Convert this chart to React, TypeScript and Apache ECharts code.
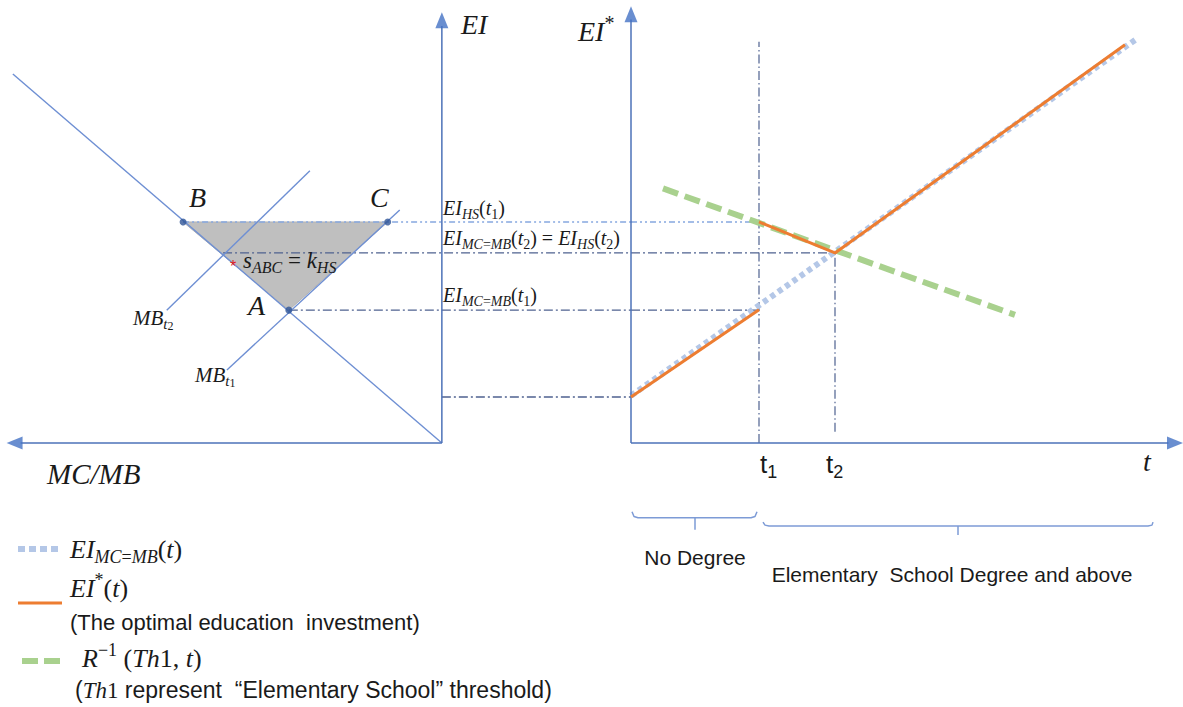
import React, { useEffect, useRef } from "react";
import * as echarts from "echarts";

// ---------- Left panel: MC/MB (to the left) vs EI ----------
const mcLine = [[9.98, 8.58], [0, 0]];
const mbT1Line = [[5.0, 1.7], [0.98, 5.42]];
const mbT2Line = [[6.4, 3.09], [3.07, 6.33]];
const triangleABC = [[6.02, 5.14], [1.26, 5.14], [3.56, 3.09]];
const pointNames = ["B", "C", "A"];

// ---------- Connectors between panels ----------
const t1 = 2.56;
const t2 = 4.08;
const connectorEI = [5.14, 4.42, 3.09, 1.07];
const connectorFromMCMB = [6.02, 5.09, 3.56, 0];
const connectorToT = [t1, t2, t1, 0];

// ---------- Right panel: t vs EI* ----------
const eiMCMB = [[0, 1.1], [10.14, 9.42]];
const eiOptimalNoDegree = [[0, 1.07], [t1, 3.1]];
const eiOptimalDegree = [[t1, 5.14], [t2, 4.42], [9.88, 9.26]];
const rInverse = [[0.64, 5.92], [7.68, 2.98]];
const t1Guide = [[t1, 0], [t1, 9.33]];
const t2Guide = [[t2, 0.26], [t2, 4.49]];
const braceNoDegree = [[0.02, -1.6], [0.06, -1.71], [0.14, -1.74], [2.4, -1.74], [2.48, -1.71], [2.52, -1.6]];
const braceNoDegreeTick = [[1.28, -1.74], [1.28, -2.02]];
const braceDegree = [[2.64, -1.84], [2.68, -1.91], [2.76, -1.93], [10.34, -1.93], [10.42, -1.91], [10.44, -1.84]];
const braceDegreeTick = [[6.54, -1.93], [6.54, -2.14]];

// axes (drawn as segments with arrow heads)
const leftEIAxis = [[0, 0], [0, 9.7]];
const leftEIArrow = [[0, 9.83]];
const leftMCAxis = [[0, 0], [9.8, 0]];
const leftMCArrow = [[9.94, 0]];
const rightEIAxis = [[0, 0], [0, 9.85]];
const rightEIArrow = [[0, 9.97]];
const rightTAxis = [[0, 0], [10.75, 0]];
const rightTArrow = [[10.88, 0]];

const L_MIN = -4.4;

const SERIF = "'Liberation Serif', 'Times New Roman', serif";
const SANS = "'Liberation Sans', Arial, sans-serif";
const TXT = "#1a1a1a";

function label(x: number, y: number, text: string, size: number, color: string = TXT) {
  const lh = Math.round(size * 1.3);
  const sub = Math.round(size * 0.7);
  const sub2 = Math.round(size * 0.55);
  return {
    type: "text",
    x,
    y,
    silent: true,
    z: 20,
    style: {
      text,
      align: "left",
      verticalAlign: "middle",
      fill: color,
      fontFamily: SERIF,
      fontSize: size,
      rich: {
        m: { fontFamily: SERIF, fontStyle: "italic", fontSize: size, lineHeight: lh, fill: color, verticalAlign: "middle" },
        r: { fontFamily: SERIF, fontSize: size, lineHeight: lh, fill: color, verticalAlign: "middle" },
        n: { fontFamily: SANS, fontSize: size, lineHeight: lh, fill: color, verticalAlign: "middle" },
        s: { fontFamily: SERIF, fontStyle: "italic", fontSize: sub, lineHeight: sub, fill: color, verticalAlign: "bottom" },
        su: { fontFamily: SERIF, fontSize: sub, lineHeight: sub, fill: color, verticalAlign: "bottom" },
        ss: { fontFamily: SERIF, fontSize: sub2, lineHeight: sub2 - 2, fill: color, verticalAlign: "bottom" },
        ns: { fontFamily: SANS, fontSize: Math.round(size * 0.68), lineHeight: Math.round(size * 0.68), fill: color, verticalAlign: "bottom" },
        p: { fontFamily: SERIF, fontSize: sub, lineHeight: sub, fill: color, verticalAlign: "top" },
      },
    },
  };
}

function centered(x: number, y: number, text: string, size: number) {
  return {
    type: "text",
    x,
    y,
    silent: true,
    z: 20,
    style: { text, align: "center", verticalAlign: "middle", fill: TXT, fontFamily: SANS, fontSize: size },
  };
}

function seg(data: number[][], gi: number, color: string, width: number, type: any, z = 3) {
  return {
    type: "line",
    xAxisIndex: gi,
    yAxisIndex: gi,
    data,
    symbol: "none",
    silent: true,
    clip: false,
    z,
    lineStyle: { color, width, type, cap: "butt" },
  };
}

function arrow(data: number[][], gi: number, rotate: number) {
  return {
    type: "scatter",
    xAxisIndex: gi,
    yAxisIndex: gi,
    data,
    symbol: "triangle",
    symbolSize: [13, 16],
    symbolRotate: rotate,
    silent: true,
    clip: false,
    z: 5,
    itemStyle: { color: "#4472c4" },
  };
}

export default function App() {
  const ref = useRef<HTMLDivElement>(null);
  useEffect(() => {
    if (!ref.current) return;
    const chart = echarts.init(ref.current, undefined, { renderer: "svg" });

    const AXIS = "#4d72b8";
    const THIN = "#6e8fd3";
    const DARKDASH = "#4f6290";
    const LIGHTDASH = "#86a8e0";

    const series: any[] = [];
    // shaded triangle
    series.push({
      type: "custom",
      xAxisIndex: 0,
      yAxisIndex: 0,
      data: triangleABC,
      silent: true,
      z: 1,
      renderItem: (params: any, api: any) => {
        if (params.dataIndex !== 0) return null;
        const pts = triangleABC.map((p) => api.coord(p));
        return { type: "polygon", shape: { points: pts }, style: { fill: "#bfbfbf", stroke: "#b3b3b3", lineWidth: 1 } };
      },
    });
    // axes
    series.push(seg(leftEIAxis, 0, AXIS, 1.5, "solid", 4));
    series.push(seg(leftMCAxis, 0, AXIS, 1.5, "solid", 4));
    series.push(seg(rightEIAxis, 1, AXIS, 1.5, "solid", 4));
    series.push(seg(rightTAxis, 1, AXIS, 1.5, "solid", 4));
    series.push(arrow(leftEIArrow, 0, 0));
    series.push(arrow(leftMCArrow, 0, 90));
    series.push(arrow(rightEIArrow, 1, 0));
    series.push(arrow(rightTArrow, 1, -90));
    // left panel curves
    series.push(seg(mcLine, 0, THIN, 1.4, "solid"));
    series.push(seg(mbT1Line, 0, THIN, 1.4, "solid"));
    series.push(seg(mbT2Line, 0, THIN, 1.4, "solid"));
    // connectors
    connectorEI.forEach((ei, i) => {
      const color = i === 0 ? LIGHTDASH : DARKDASH;
      const dash = i === 0 ? [6, 3, 2, 3, 2, 3] : [9, 3, 2, 3];
      series.push(seg([[connectorFromMCMB[i], ei], [L_MIN, ei]], 0, color, 1.3, dash, 2));
      if (connectorToT[i] > 0) series.push(seg([[0, ei], [connectorToT[i], ei]], 1, color, 1.3, dash, 2));
    });
    // guides
    series.push(seg(t1Guide, 1, DARKDASH, 1.2, [9, 3, 1.5, 3], 2));
    series.push(seg(t2Guide, 1, DARKDASH, 1.2, [9, 3, 1.5, 3], 2));
    // right panel curves
    series.push(seg(eiMCMB, 1, "#b4c7e7", 6, [5, 4], 3));
    series.push(seg(rInverse, 1, "#a9d18e", 6, [16, 7], 3));
    series.push(seg(eiOptimalNoDegree, 1, "#ed7d31", 3, "solid", 4));
    series.push(seg(eiOptimalDegree, 1, "#ed7d31", 3, "solid", 4));
    // braces
    series.push(seg(braceNoDegree, 1, "#7d9bd6", 1.5, "solid", 3));
    series.push(seg(braceNoDegreeTick, 1, "#7d9bd6", 1.5, "solid", 3));
    series.push(seg(braceDegree, 1, "#7d9bd6", 1.5, "solid", 3));
    series.push(seg(braceDegreeTick, 1, "#7d9bd6", 1.5, "solid", 3));
    // points B C A
    series.push({
      type: "scatter",
      xAxisIndex: 0,
      yAxisIndex: 0,
      data: triangleABC.map((p, i) => ({ name: pointNames[i], value: p })),
      symbolSize: 7,
      silent: true,
      z: 6,
      itemStyle: { color: "#2f5597" },
    });

    const graphic: any[] = [
      label(189, 197, "{m|B}", 28),
      label(370, 197, "{m|C}", 28),
      label(248, 305, "{m|A}", 28),
      label(461, 24, "{m|EI}", 28),
      label(47, 474, "{m|MC/MB}", 29),
      label(133, 318, "{m|MB}{s|t}{ss|2}", 21),
      label(195, 375, "{m|MB}{s|t}{ss|1}", 21),
      label(243, 260, "{m|s}{s|ABC}{r| = }{m|k}{s|HS}", 23),
      { type: "text", x: 233, y: 266, silent: true, z: 20, style: { text: "*", fill: "#e02020", fontFamily: SANS, fontSize: 16, align: "center", verticalAlign: "middle" } },
      label(443, 208, "{m|EI}{s|HS}{r|(}{m|t}{su|1}{r|)}", 20),
      label(443, 238, "{m|EI}{s|MC}{su|=}{s|MB}{r|(}{m|t}{su|2}{r|) = }{m|EI}{s|HS}{r|(}{m|t}{su|2}{r|)}", 20),
      label(443, 295, "{m|EI}{s|MC}{su|=}{s|MB}{r|(}{m|t}{su|1}{r|)}", 20),
      label(578, 31, "{m|EI}{p|*}", 28),
      label(1143, 461, "{m|t}", 28),
      label(760, 464, "{n|t}{ns|1}", 26),
      label(826, 464, "{n|t}{ns|2}", 26),
      centered(695, 557, "No Degree", 21),
      centered(952, 574, "Elementary  School Degree and above", 21),
      // legend
      { type: "line", silent: true, shape: { x1: 18, y1: 549, x2: 62, y2: 549 }, style: { stroke: "#b4c7e7", lineWidth: 6, lineDash: [7, 4] } },
      label(70, 549, "{m|EI}{s|MC}{su|=}{s|MB}{r|(}{m|t}{r|)}", 26),
      { type: "line", silent: true, shape: { x1: 18, y1: 603, x2: 62, y2: 603 }, style: { stroke: "#ed7d31", lineWidth: 3 } },
      label(70, 588, "{m|EI}{p|*}{r|(}{m|t}{r|)}", 26),
      label(70, 622, "{n|(The optimal education  investment)}", 22),
      { type: "line", silent: true, shape: { x1: 22, y1: 661, x2: 62, y2: 661 }, style: { stroke: "#a9d18e", lineWidth: 6, lineDash: [16, 6] } },
      label(82, 658, "{m|R}{p|−1}{r| (}{m|Th}{r|1, }{m|t}{r|)}", 26),
      label(75, 690, "{n|(}{m|Th}{r|1}{n| represent  “Elementary School” threshold)}", 23),
    ];

    chart.setOption({
      animation: false,
      backgroundColor: "#ffffff",
      grid: [
        { left: 12, top: 13, width: 619, height: 430 },
        { left: 631, top: 13, width: 550, height: 430 },
      ],
      xAxis: [
        { gridIndex: 0, type: "value", min: L_MIN, max: 10, inverse: true, show: false },
        { gridIndex: 1, type: "value", min: 0, max: 11, show: false },
      ],
      yAxis: [
        { gridIndex: 0, type: "value", min: 0, max: 10, show: false },
        { gridIndex: 1, type: "value", min: 0, max: 10, show: false },
      ],
      series,
      graphic,
    });
    return () => chart.dispose();
  }, []);
  return <div ref={ref} style={{ position: "absolute", left: 0, top: 0, width: 1183, height: 707 }} />;
}
